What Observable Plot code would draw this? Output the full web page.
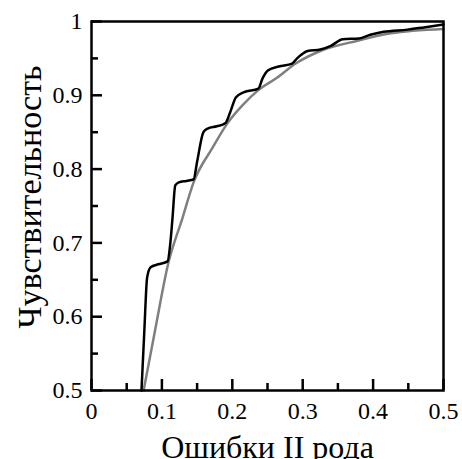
<!DOCTYPE html>
<html><head><meta charset="utf-8">
<script src="https://cdn.jsdelivr.net/npm/d3@7"></script>
<script src="https://cdn.jsdelivr.net/npm/@observablehq/plot@0.6"></script>
<style>
html,body{margin:0;padding:0;background:#fff}
svg, svg text { font-family: "Liberation Serif", "Times New Roman", serif !important; }
</style>
</head><body><div id="chart"></div>
<script>
const xLabel = "Ошибки II рода";
const yLabel = "Чувствительность";

const blackX = [0.071,0.075,0.079,0.084,0.095,0.108,0.112,0.115,0.119,0.124,0.135,0.145,0.150,0.159,0.165,0.178,0.190,0.197,0.205,0.216,0.237,0.243,0.251,0.266,0.285,0.292,0.307,0.325,0.340,0.357,0.380,0.396,0.415,0.449,0.472,0.5];
const blackY = [0.5,0.58,0.653,0.667,0.671,0.675,0.70,0.733,0.778,0.782,0.784,0.786,0.81,0.850,0.855,0.858,0.862,0.877,0.897,0.904,0.909,0.923,0.934,0.939,0.943,0.950,0.960,0.962,0.967,0.976,0.977,0.982,0.986,0.989,0.992,0.996];

const grayX = [0.074,0.09,0.109,0.129,0.145,0.172,0.193,0.214,0.237,0.264,0.29,0.325,0.378,0.425,0.5];
const grayY = [0.5,0.58,0.672,0.733,0.782,0.829,0.862,0.886,0.907,0.924,0.943,0.960,0.974,0.984,0.99];

const xMajorTicks = [0,0.1,0.2,0.3,0.4,0.5];
const xMinorTicks = [0.05,0.15,0.25,0.35,0.45];
const yMajorTicks = [0.5,0.6,0.7,0.8,0.9,1];
const yMinorTicks = [0.55,0.65,0.75,0.85,0.95];
const xTickLabels = ["0","0.1","0.2","0.3","0.4","0.5"];
const yTickLabels = ["0.5","0.6","0.7","0.8","0.9","1"];

const W = 462, H = 459, mL = 91, mR = 19, mT = 21, mB = 69;
const pw = W - mL - mR, ph = H - mT - mB;
const serif = "Liberation Serif, Times New Roman, serif";

const black = blackX.map((x, i) => ({x, y: blackY[i]}));
const gray = grayX.map((x, i) => ({x, y: grayY[i]}));

const chart = Plot.plot({
  width: W, height: H,
  marginLeft: mL, marginRight: mR, marginTop: mT, marginBottom: mB,
  x: {domain: [0, 0.5]},
  y: {domain: [0.5, 1]},
  style: {fontFamily: serif, fontSize: "24px", background: "#fff", color: "#000"},
  marks: [
    Plot.line(gray, {x: "x", y: "y", stroke: "#7f7f7f", strokeWidth: 2.5, curve: "monotone-x"}),
    Plot.line(black, {x: "x", y: "y", stroke: "#000", strokeWidth: 2.5, curve: "monotone-x"}),
    Plot.tickX(xMajorTicks, {x: d => d, insetTop: ph - 11, stroke: "#000", strokeWidth: 2.5}),
    Plot.tickX(xMinorTicks, {x: d => d, insetTop: ph - 7, stroke: "#000", strokeWidth: 2.5}),
    Plot.tickY(yMajorTicks, {y: d => d, insetRight: pw - 11, stroke: "#000", strokeWidth: 2.5}),
    Plot.tickY(yMinorTicks, {y: d => d, insetRight: pw - 7, stroke: "#000", strokeWidth: 2.5}),
    Plot.axisX({ticks: xMajorTicks, tickSize: 0, tickPadding: 11, tickFormat: d => xTickLabels[xMajorTicks.indexOf(d)], label: null, fontSize: 24, fontFamily: serif}),
    Plot.axisY({ticks: yMajorTicks, tickSize: 0, tickPadding: 9, tickFormat: d => yTickLabels[yMajorTicks.indexOf(d)], label: null, fontSize: 24, fontFamily: serif}),
    Plot.frame({stroke: "#000", strokeWidth: 2.5}),
    Plot.text([xLabel], {text: d => d, frameAnchor: "bottom", textAnchor: "middle", lineAnchor: "middle", dy: 57, fontSize: 32, fontFamily: serif}),
    Plot.text([yLabel], {text: d => d, frameAnchor: "left", textAnchor: "middle", lineAnchor: "middle", rotate: -90, dx: -61, dy: -9, fontSize: 34, fontFamily: serif})
  ]
});
document.getElementById("chart").appendChild(chart);
</script>
</body></html>
